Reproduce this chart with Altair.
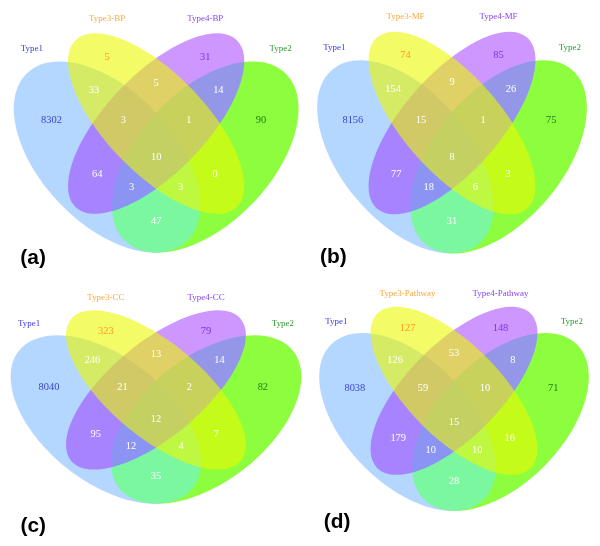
import altair as alt
import pandas as pd
import numpy as np

# ---------------- data ----------------
regions = ["T1", "T3", "T4", "T2", "T1&T3", "T3&T4", "T4&T2", "T1&T3&T4",
           "T3&T4&T2", "T1&T2&T3&T4", "T1&T4", "T3&T2", "T1&T4&T2", "T1&T3&T2", "T1&T2"]
counts_bp = [8302, 5, 31, 90, 33, 5, 14, 3, 1, 10, 64, 0, 3, 3, 47]
counts_mf = [8156, 74, 85, 75, 154, 9, 26, 15, 1, 8, 77, 3, 18, 6, 31]
counts_cc = [8040, 323, 79, 82, 246, 13, 14, 21, 2, 12, 95, 7, 12, 4, 35]
counts_pw = [8038, 127, 148, 71, 126, 53, 8, 59, 10, 15, 179, 16, 10, 10, 28]
suffixes = ["BP", "MF", "CC", "Pathway"]
panel_letters = ["(a)", "(b)", "(c)", "(d)"]
all_counts = [counts_bp, counts_mf, counts_cc, counts_pw]

# ---------------- geometry (diagram units, y up) ----------------
REG_X = [0.18, 0.35, 0.65, 0.82, 0.31, 0.50, 0.69, 0.40, 0.60, 0.50, 0.32, 0.68, 0.425, 0.575, 0.50]
REG_Y = [0.58, 0.77, 0.77, 0.58, 0.67, 0.69, 0.67, 0.58, 0.58, 0.47, 0.42, 0.42, 0.38, 0.38, 0.28]
LAB_X = [0.12, 0.35, 0.65, 0.88]
LAB_Y = [0.795, 0.885, 0.885, 0.795]
LAB_COL = ["#3a3ae0", "#ffa63c", "#8a44f2", "#2f9a2f"]
NUM_COL = ["#3a44d0", "#ff9a1e", "#7a36e0", "#227a22"] + ["white"] * 11

# ellipses: name, cx, cy, a, b, theta(deg, y-up), color, opacity, blend  (drawing order)
ELLIPSES = [
    ("T2", 0.65, 0.47, 0.35, 0.20, 45, "#6af802", 0.77, None),
    ("T1", 0.35, 0.47, 0.35, 0.20, 135, "#6cb0ff", 0.51, None),
    ("T2", 0.65, 0.47, 0.35, 0.20, 45, "#00ff00", 0.80, "lighten"),
    ("T4", 0.50, 0.57, 0.35, 0.15, 45, "#9b30ff", 0.50, None),
    ("T4", 0.50, 0.57, 0.35, 0.15, 45, "#0000ff", 0.75, "lighten"),
    ("T3", 0.50, 0.57, 0.35, 0.15, 135, "#ebf800", 0.60, None),
]

# panel mapping (reference px in a 300x273 cell): cx, sx, cy, sy
PANEL_MAP = [
    (153.0, 338.0, 153.0, 347.0),
    (157.5, 320.0, 152.7, 351.0),
    (152.8, 345.0, 151.7, 306.0),
    (157.5, 320.0, 154.3, 323.0),
]
LETTER_POS = [(0.124, 0.170), (0.117, 0.173), (0.1325, 0.110), (0.1225, 0.150)]

W, H = 292, 265
FX, FY = W / 300.0, H / 273.0


def rot(deg):
    t = np.radians(deg)
    return np.array([[np.cos(t), -np.sin(t)], [np.sin(t), np.cos(t)]])


def panel(i):
    cx, sx, cy, sy = PANEL_MAP[i]
    cx, sx, cy, sy = cx * FX, sx * FX, cy * FY, sy * FY
    xs = alt.Scale(domain=[0.5 - cx / sx, 0.5 + (W - cx) / sx], nice=False, zero=False)
    ys = alt.Scale(domain=[0.47 - (H - cy) / sy, 0.47 + cy / sy], nice=False, zero=False)
    X = lambda f: alt.X(f, type="quantitative", scale=xs, axis=None)
    Y = lambda f: alt.Y(f, type="quantitative", scale=ys, axis=None)

    layers = []
    for name, ecx, ecy, a, b, th, color, op, blend in ELLIPSES:
        M = np.diag([sx, -sy]) @ rot(th) @ np.diag([a, b])
        U, S, Vt = np.linalg.svd(M)
        rx, ry = float(S[0]), float(S[1])
        ang = float(np.degrees(np.arctan2(U[1, 0], U[0, 0])) % 180)
        r = ry / rx
        path = (f"M -1 0 A 1 {r:.5f} 0 0 1 0 {-r:.5f} A 1 {r:.5f} 0 0 1 1 0 "
                f"A 1 {r:.5f} 0 0 1 0 {r:.5f} A 1 {r:.5f} 0 0 1 -1 0 Z")
        df = pd.DataFrame({"ux": [ecx], "uy": [ecy]})
        kw = dict(shape=path, filled=True, color=color, opacity=op,
                  size=(2 * rx) ** 2, angle=ang, strokeWidth=0)
        if blend:
            kw["blend"] = blend
        layers.append(alt.Chart(df).mark_point(**kw).encode(x=X("ux"), y=Y("uy")))

    nums = pd.DataFrame({"region": regions, "n": all_counts[i], "ux": REG_X, "uy": REG_Y,
                         "col": NUM_COL})
    layers.append(
        alt.Chart(nums).mark_text(font="Liberation Serif", fontSize=10.5, baseline="middle",
                                  align="center")
        .encode(x=X("ux"), y=Y("uy"), text="n:N", color=alt.Color("col:N", scale=None))
    )
    labs = pd.DataFrame({"t": ["Type1", f"Type3-{suffixes[i]}", f"Type4-{suffixes[i]}", "Type2"],
                         "ux": LAB_X, "uy": LAB_Y, "col": LAB_COL})
    layers.append(
        alt.Chart(labs).mark_text(font="Liberation Serif", fontSize=9, baseline="middle",
                                  align="center")
        .encode(x=X("ux"), y=Y("uy"), text="t:N", color=alt.Color("col:N", scale=None))
    )
    let = pd.DataFrame({"t": [panel_letters[i]], "ux": [LETTER_POS[i][0]], "uy": [LETTER_POS[i][1]]})
    layers.append(
        alt.Chart(let).mark_text(font="Liberation Sans", fontSize=21, fontWeight="bold",
                                 baseline="middle", align="center", color="black")
        .encode(x=X("ux"), y=Y("uy"), text="t:N")
    )
    return alt.layer(*layers).properties(width=W, height=H)


chart = alt.vconcat(
    alt.hconcat(panel(0), panel(1), spacing=0),
    alt.hconcat(panel(2), panel(3), spacing=0),
    spacing=0,
).properties(padding=0, background="white").configure_view(stroke=None)

chart.save("out.html", embed_options={"renderer": "svg", "actions": False})
